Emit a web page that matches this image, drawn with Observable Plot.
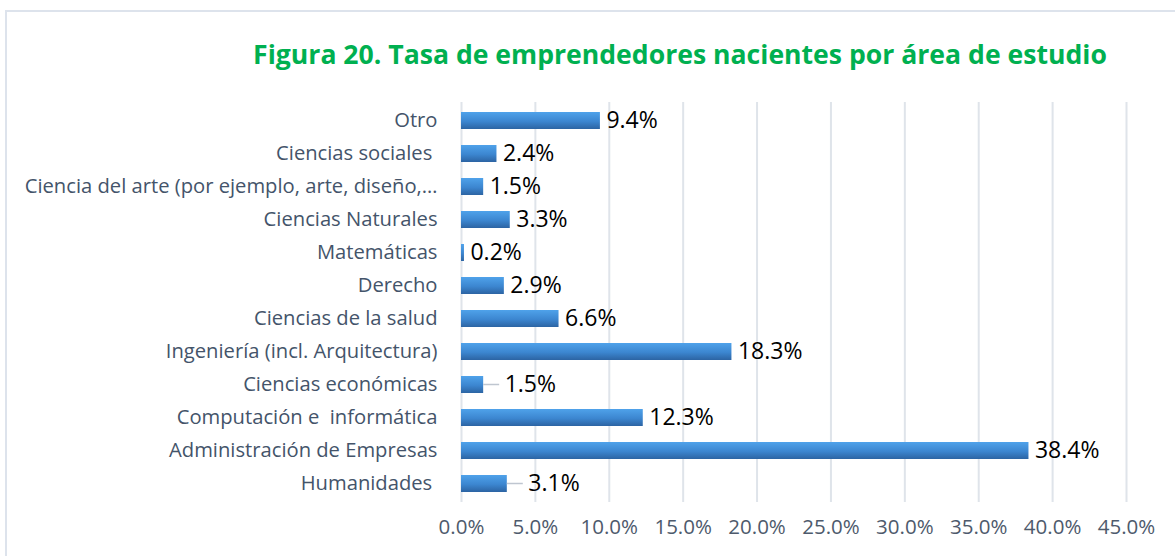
<!DOCTYPE html>
<html>
<head>
<meta charset="utf-8">
<script src="https://cdn.jsdelivr.net/npm/d3@7"></script>
<script src="https://cdn.jsdelivr.net/npm/@observablehq/plot@0.6"></script>
<style>
  html, body { margin: 0; padding: 0; background: #fff; width: 1175px; height: 556px; overflow: hidden; }
  #frame { position: absolute; left: 5px; top: 10px; width: 1200px; height: 600px;
           border-left: 2px solid #DDE3EC; border-top: 2px solid #DDE3EC; box-sizing: border-box; }
  #title { position: absolute; left: 0; width: 1360px; top: 36px; text-align: center;
           font-family: "Open Sans", sans-serif; font-weight: 700; font-size: 26.6px; color: #00B050; }
  #chart { position: absolute; left: 0; top: 90px; }
  #chart svg text { white-space: pre; }
</style>
</head>
<body>
<div id="frame"></div>
<div id="title">Figura 20. Tasa de emprendedores nacientes por área de estudio</div>
<div id="chart"></div>
<script>
const categories = [
  "Otro",
  "Ciencias sociales ",
  "Ciencia del arte (por ejemplo, arte, diseño,…",
  "Ciencias Naturales",
  "Matemáticas",
  "Derecho",
  "Ciencias de la salud",
  "Ingeniería (incl. Arquitectura)",
  "Ciencias económicas",
  "Computación e  informática",
  "Administración de Empresas",
  "Humanidades "
];
const values = [9.4, 2.4, 1.5, 3.3, 0.2, 2.9, 6.6, 18.3, 1.5, 12.3, 38.4, 3.1];
const xTicks = [0, 5, 10, 15, 20, 25, 30, 35, 40, 45];
const leaderCategories = ["Ciencias económicas", "Humanidades "];

const data = categories.map((c, i) => ({category: c, value: values[i]}));
const isLeader = d => leaderCategories.includes(d.category);

const plot = Plot.plot({
  width: 1175,
  height: 460,
  marginLeft: 461,
  marginRight: 49,
  marginTop: 12,
  marginBottom: 48,
  style: {fontFamily: "Open Sans, sans-serif", background: "transparent", overflow: "visible"},
  x: {domain: [0, 45], ticks: xTicks, tickFormat: d => d.toFixed(1) + "%"},
  y: {domain: categories, paddingInner: 0.49, paddingOuter: 0.245},
  marks: [
    Plot.gridX(xTicks, {stroke: "#DFE4EA", strokeOpacity: 1, strokeWidth: 2}),
    Plot.barX(data, {x: "value", y: "category", fill: "url(#barGrad)",
      style: "filter: drop-shadow(2px 3px 2px rgba(0,0,0,0.35))"}),
    Plot.text(data.filter(d => !isLeader(d)), {x: "value", y: "category", text: d => d.value.toFixed(1) + "%",
      textAnchor: "start", dx: 6, fontSize: 23, fill: "#000"}),
    Plot.text(data.filter(isLeader), {x: "value", y: "category", text: d => d.value.toFixed(1) + "%",
      textAnchor: "start", dx: 21, fontSize: 23, fill: "#000"}),
    Plot.axisX({ticks: xTicks, tickFormat: d => d.toFixed(1) + "%", tickSize: 0, tickPadding: 17,
      fontSize: 20.5, color: "#4E5A6C", label: null}),
    Plot.axisY({tickSize: 0, tickPadding: 24, fontSize: 20.2, color: "#44546A", label: null})
  ]
});

// gradient definition for bars
const svg = d3.select(plot);
const defs = svg.insert("defs", ":first-child");
const grad = defs.append("linearGradient").attr("id", "barGrad")
  .attr("x1", 0).attr("y1", 0).attr("x2", 0).attr("y2", 1);
grad.append("stop").attr("offset", "0%").attr("stop-color", "#4FA2EA");
grad.append("stop").attr("offset", "55%").attr("stop-color", "#3C86D0");
grad.append("stop").attr("offset", "100%").attr("stop-color", "#2C64A3");

// leader lines from bar end toward the label, positioned via the plot's scales
const xs = plot.scale("x"), ys = plot.scale("y");
data.filter(isLeader).forEach(d => {
  const x0 = xs.apply(d.value);
  const y0 = ys.apply(d.category) + ys.bandwidth / 2;
  svg.append("line").attr("x1", x0).attr("x2", x0 + 16).attr("y1", y0).attr("y2", y0)
    .attr("stroke", "#BFC6D0").attr("stroke-width", 1.5);
});

document.getElementById("chart").appendChild(plot);
</script>
</body>
</html>
